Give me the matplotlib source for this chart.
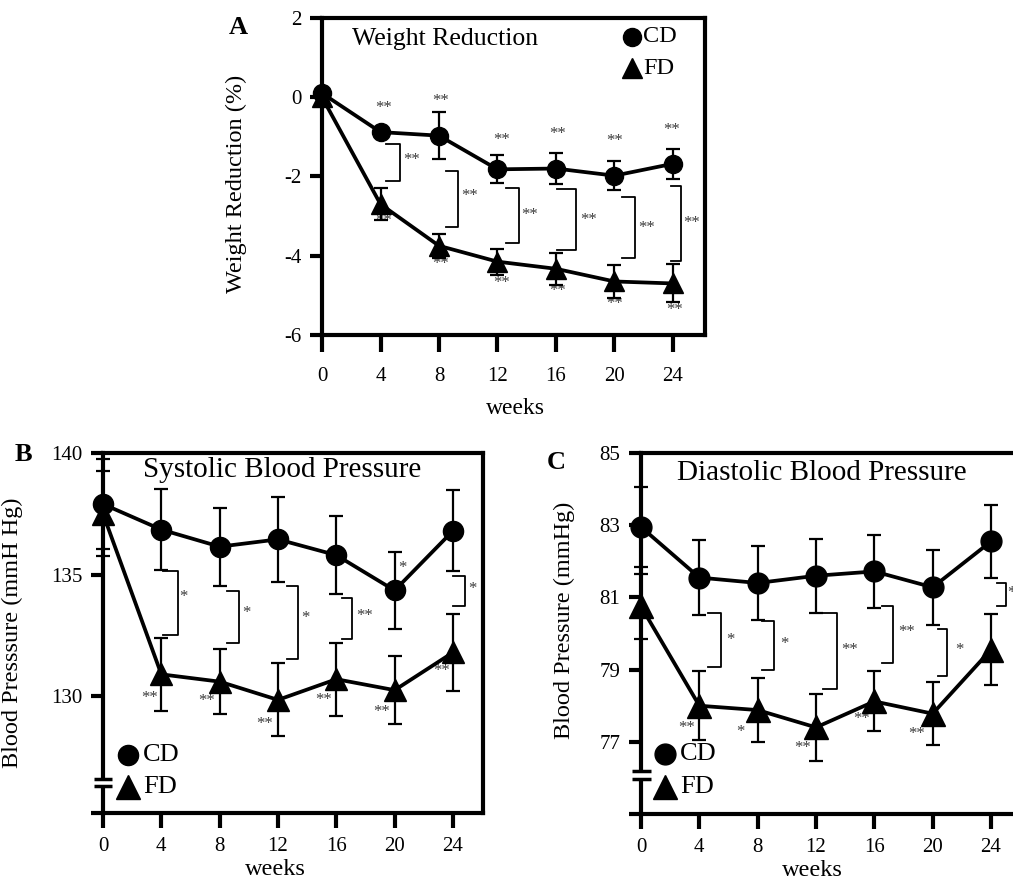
import matplotlib
matplotlib.use('Agg')
import matplotlib.pyplot as plt

plt.rcParams['font.family'] = ['Liberation Serif', 'DejaVu Serif']
plt.rcParams['axes.unicode_minus'] = False

weeks = [0, 4, 8, 12, 16, 20, 24]

# A: weight reduction (%)
wr_cd = [0.1, -0.88, -0.97, -1.82, -1.8, -1.98, -1.68]
wr_cd_err = [0.05, 0.1, 0.6, 0.35, 0.38, 0.37, 0.38]
wr_fd = [0.0, -2.7, -3.75, -4.15, -4.33, -4.65, -4.7]
wr_fd_err = [0.05, 0.4, 0.3, 0.33, 0.4, 0.42, 0.48]

# B: systolic blood pressure (mmHg)
sbp_cd = [137.9, 136.85, 136.15, 136.45, 135.8, 134.35, 136.8]
sbp_cd_err = [1.85, 1.67, 1.6, 1.76, 1.6, 1.57, 1.67]
sbp_fd = [137.5, 130.9, 130.6, 129.85, 130.7, 130.25, 131.8]
sbp_fd_err = [1.75, 1.5, 1.35, 1.5, 1.5, 1.4, 1.6]

# C: diastolic blood pressure (mmHg)
dbp_cd = [82.95, 81.55, 81.4, 81.6, 81.72, 81.28, 82.55]
dbp_cd_err = [1.1, 1.03, 1.02, 1.03, 1.0, 1.03, 1.02]
dbp_fd = [80.75, 78.0, 77.88, 77.4, 78.12, 77.78, 79.55]
dbp_fd_err = [0.9, 0.96, 0.88, 0.92, 0.83, 0.87, 0.98]

# significance brackets: (arm start, bar x, top, bottom, label, label x, label y)
wr_brackets = [(4.4, 5.3, -1.18, -2.12, '**', 6.15, -1.58),
               (8.5, 9.3, -1.85, -3.28, '**', 10.1, -2.5),
               (12.6, 13.5, -2.28, -3.68, '**', 14.2, -2.97),
               (16.1, 17.4, -2.32, -3.85, '**', 18.2, -3.1),
               (20.5, 21.4, -2.52, -4.05, '**', 22.2, -3.3),
               (23.9, 24.55, -2.25, -4.13, '**', 25.3, -3.18)]
sbp_brackets = [(4.1, 5.15, 135.14, 132.5, '*', 5.5, 134.1),
                (8.5, 9.3, 134.32, 132.17, '*', 9.85, 133.43),
                (12.6, 13.35, 134.54, 131.52, '*', 13.9, 133.2),
                (16.4, 17.1, 134.05, 132.35, '**', 17.95, 133.3),
                (24.0, 24.8, 134.95, 133.7, '*', 25.35, 134.4)]
dbp_brackets = [(4.6, 5.47, 80.58, 79.08, '*', 6.1, 79.82),
                (8.3, 9.14, 80.35, 78.99, '*', 9.8, 79.71),
                (12.5, 13.42, 80.58, 78.45, '**', 14.3, 79.54),
                (16.5, 17.26, 80.76, 79.17, '**', 18.2, 80.03),
                (20.35, 21.0, 80.12, 78.82, '*', 21.8, 79.54),
                (24.4, 25.0, 81.41, 80.77, '*', 25.4, 81.13)]

# stars next to single points (vs. baseline)
wr_star_x = [4.2, 8.1, 12.3, 16.1, 20.0, 23.9, 4.2, 8.1, 12.3, 16.1, 20.0, 24.1]
wr_star_y = [-0.27, -0.09, -1.07, -0.93, -1.1, -0.82, -3.12, -4.22, -4.68, -4.88, -5.23, -5.38]
wr_star_lbl = ['**'] * 12
sbp_star_x = [20.5, 3.2, 7.1, 11.1, 15.15, 19.1, 23.2]
sbp_star_y = [135.26, 129.93, 129.8, 128.85, 129.84, 129.36, 131.04]
sbp_star_lbl = ['*', '**', '**', '**', '**', '**', '**']
dbp_star_x = [3.1, 6.8, 11.06, 15.1, 18.9]
dbp_star_y = [77.37, 77.28, 76.82, 77.62, 77.23]
dbp_star_lbl = ['**', '*', '**', '**', '**']

STAR_C = '#3a3a3a'


def draw_panel(ax, cd, cd_err, fd, fd_err, ms_c, ms_t, cap):
    for vals, err, mk, ms in [(cd, cd_err, 'o', ms_c), (fd, fd_err, '^', ms_t)]:
        eb = ax.errorbar(weeks, vals, yerr=err, fmt='-' + mk, color='k', ms=ms,
                         lw=2.7, elinewidth=1.6, capsize=cap, capthick=1.6, zorder=4)
        for art in eb.get_children():
            art.set_clip_on(False)
    for sp in ax.spines.values():
        sp.set_linewidth(3)
    ax.tick_params(direction='out', length=9, width=3, labelsize=15, pad=6)


def draw_brackets(ax, brackets, fs):
    for xa, xb, yt, yb, lbl, lx, ly in brackets:
        ax.plot([xa, xb, xb, xa], [yt, yt, yb, yb], color='k', lw=1.3, zorder=3)
        ax.text(lx, ly, lbl, ha='center', va='center', fontsize=fs, color=STAR_C)


def draw_stars(ax, xs, ys, lbls, fs):
    for x, y, l in zip(xs, ys, lbls):
        ax.text(x, y, l, ha='center', va='center', fontsize=fs, color=STAR_C)


def draw_key(ax, x_mk, x_txt, y_cd, y_fd, ms_c, ms_t, fs):
    ax.plot([x_mk], [y_cd], 'o', color='k', ms=ms_c, transform=ax.transAxes, clip_on=False)
    ax.plot([x_mk], [y_fd], '^', color='k', ms=ms_t, transform=ax.transAxes, clip_on=False)
    ax.text(x_txt, y_cd, 'CD', transform=ax.transAxes, ha='left', va='center', fontsize=fs)
    ax.text(x_txt, y_fd, 'FD', transform=ax.transAxes, ha='left', va='center', fontsize=fs)


def draw_break(ax, y_hi, y_lo):
    ax.plot([0, 0], [y_lo, y_hi], color='white', lw=5, zorder=5, clip_on=False, solid_capstyle='butt')
    for y in (y_hi, y_lo):
        ax.plot([-0.6, 0.65], [y, y], color='k', lw=2.5, zorder=6, clip_on=False, solid_capstyle='butt')


fig = plt.figure(figsize=(10.13, 8.81), dpi=100)

# ---- A ----
axA = fig.add_axes([0.3179, 0.6198, 0.3781, 0.3598])
draw_panel(axA, wr_cd, wr_cd_err, wr_fd, wr_fd_err, 13, 14, 5)
axA.set_xlim(0, 26.2)
axA.set_ylim(-6, 2)
axA.set_xticks(weeks)
axA.set_yticks([2, 0, -2, -4, -6])
axA.tick_params(axis='x', length=12, pad=11)
draw_brackets(axA, wr_brackets, 12)
draw_stars(axA, wr_star_x, wr_star_y, wr_star_lbl, 12)
draw_key(axA, 0.809, 0.838, 0.940, 0.842, 13, 15, 17.5)
axA.text(0.321, 0.934, 'Weight Reduction', transform=axA.transAxes, ha='center', va='center', fontsize=18.5)
axA.set_ylabel('Weight Reduction (%)', fontsize=17.5)
axA.yaxis.set_label_coords(-0.196, 0.476)
axA.set_xlabel('weeks', fontsize=17)
axA.xaxis.set_label_coords(0.504, -0.198)
fig.text(238 / 1013, 1 - 27 / 881, 'A', ha='center', va='center', fontsize=19, fontweight='bold')

# ---- B ----
axB = fig.add_axes([0.1017, 0.0772, 0.3751, 0.4086])
draw_panel(axB, sbp_cd, sbp_cd_err, sbp_fd, sbp_fd_err, 14.5, 16.5, 5)
axB.set_xlim(0, 26.06)
axB.set_ylim(125.2, 140)
axB.set_xticks(weeks)
axB.set_yticks([125.2, 130, 135, 140])
axB.set_yticklabels(['', '130', '135', '140'])
axB.tick_params(axis='x', length=11)
draw_brackets(axB, sbp_brackets, 12)
draw_stars(axB, sbp_star_x, sbp_star_y, sbp_star_lbl, 12)
draw_key(axB, 0.066, 0.105, 0.161, 0.072, 14.5, 17, 19)
draw_break(axB, 126.6, 126.3)
axB.text(0.471, 0.953, 'Systolic Blood Pressure', transform=axB.transAxes, ha='center', va='center', fontsize=21)
axB.set_ylabel('Blood Presssure (mmH Hg)', fontsize=17.5)
axB.yaxis.set_label_coords(-0.21, 0.5)
axB.set_xlabel('weeks', fontsize=17.5)
axB.xaxis.set_label_coords(0.453, -0.127)
fig.text(23 / 1013, 1 - 455 / 881, 'B', ha='center', va='center', fontsize=19, fontweight='bold')

# ---- C ----
axC = fig.add_axes([0.6328, 0.076, 0.3751, 0.4098])
draw_panel(axC, dbp_cd, dbp_cd_err, dbp_fd, dbp_fd_err, 15, 17, 5)
axC.set_xlim(0, 26.06)
axC.set_ylim(75, 85)
axC.set_xticks(weeks)
axC.set_yticks([75, 77, 79, 81, 83, 85])
axC.set_yticklabels(['', '77', '79', '81', '83', '85'])
axC.tick_params(axis='x', length=11)
draw_brackets(axC, dbp_brackets, 12)
draw_stars(axC, dbp_star_x, dbp_star_y, dbp_star_lbl, 12)
draw_key(axC, 0.063, 0.103, 0.165, 0.076, 15, 17, 19)
draw_break(axC, 76.2, 75.97)
axC.text(0.4755, 0.945, 'Diastolic Blood Pressure', transform=axC.transAxes, ha='center', va='center', fontsize=21)
axC.set_ylabel('Blood Pressure (mmHg)', fontsize=17.5)
axC.yaxis.set_label_coords(-0.174, 0.537)
axC.set_xlabel('weeks', fontsize=17.5)
axC.xaxis.set_label_coords(0.45, -0.127)
fig.text(556 / 1013, 1 - 463 / 881, 'C', ha='center', va='center', fontsize=19, fontweight='bold')

fig.savefig('out.png', dpi=100)
